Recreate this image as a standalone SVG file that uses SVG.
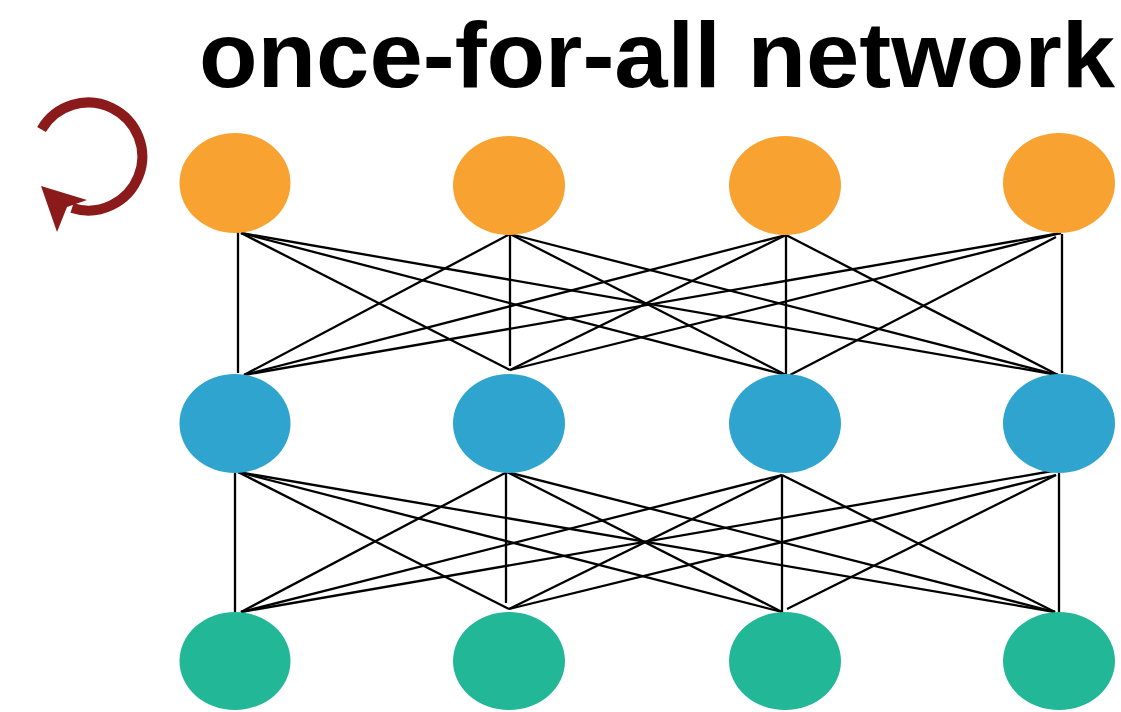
<svg xmlns="http://www.w3.org/2000/svg" width="1121" height="712" viewBox="0 0 1121 712">
<style>
.title{font-family:"Liberation Sans",Arial,sans-serif;font-weight:bold;font-size:92px;fill:#000}
.o{fill:#F8A331}.b{fill:#2FA4CF}.g{fill:#21B797}
.c line{stroke:#000;stroke-width:2.3;stroke-linecap:butt}
</style>
<rect width="1121" height="712" fill="#fff"/>
<text class="title" transform="translate(199,87) scale(1.042,1)" x="0" y="0">once-for-all network</text>
<g id="cycle-icon">
<path d="M41.5,129.5 A54,54 0 1 1 72,208" fill="none" stroke="#8B1A1A" stroke-width="10"/>
<polygon points="41,186 87,200 67,207 57,232" fill="#8B1A1A"/>
</g>
<g class="c" id="connectors">
<line x1="238" y1="232" x2="238" y2="373"/>
<line x1="241" y1="233" x2="510" y2="370"/>
<line x1="241" y1="233" x2="786" y2="375"/>
<line x1="241" y1="233" x2="1058" y2="375"/>
<line x1="510" y1="234" x2="244" y2="375"/>
<line x1="510" y1="234" x2="510" y2="366"/>
<line x1="510" y1="234" x2="786" y2="375"/>
<line x1="510" y1="234" x2="1058" y2="375"/>
<line x1="786" y1="235" x2="244" y2="375"/>
<line x1="786" y1="235" x2="510" y2="370"/>
<line x1="786" y1="235" x2="786" y2="375"/>
<line x1="786" y1="235" x2="1058" y2="375"/>
<line x1="1061" y1="233" x2="244" y2="375"/>
<line x1="1061" y1="233" x2="510" y2="370"/>
<line x1="1056" y1="237" x2="790" y2="375"/>
<line x1="1062" y1="234" x2="1062" y2="373"/>
<line x1="235" y1="469" x2="235" y2="612"/>
<line x1="238" y1="472" x2="509" y2="609"/>
<line x1="238" y1="472" x2="782" y2="612"/>
<line x1="238" y1="472" x2="1055" y2="612"/>
<line x1="507" y1="472" x2="241" y2="612"/>
<line x1="506" y1="469" x2="506" y2="603"/>
<line x1="507" y1="472" x2="782" y2="612"/>
<line x1="507" y1="472" x2="1055" y2="612"/>
<line x1="782" y1="475" x2="241" y2="612"/>
<line x1="782" y1="475" x2="509" y2="609"/>
<line x1="782" y1="475" x2="782" y2="613"/>
<line x1="782" y1="475" x2="1055" y2="612"/>
<line x1="1058" y1="470" x2="241" y2="612"/>
<line x1="1056" y1="475" x2="509" y2="609"/>
<line x1="1056" y1="475" x2="787" y2="609"/>
<line x1="1059" y1="472" x2="1059" y2="612"/>
</g>
<g id="o1"><ellipse class="o" cx="235" cy="183" rx="55.5" ry="50"/></g>
<g id="o2"><ellipse class="o" cx="509" cy="185.5" rx="56" ry="49.5"/></g>
<g id="o3"><ellipse class="o" cx="785" cy="185.5" rx="56" ry="49.5"/></g>
<g id="o4"><ellipse class="o" cx="1059" cy="183" rx="56" ry="50"/></g>
<g id="b1"><ellipse class="b" cx="235" cy="423.5" rx="55.5" ry="49.5"/></g>
<g id="b2"><ellipse class="b" cx="509" cy="423.5" rx="56" ry="49.5"/></g>
<g id="b3"><ellipse class="b" cx="785" cy="423.5" rx="56" ry="49.5"/></g>
<g id="b4"><ellipse class="b" cx="1059" cy="423.5" rx="56" ry="49.5"/></g>
<g id="g1"><ellipse class="g" cx="235" cy="661" rx="55.5" ry="49"/></g>
<g id="g2"><ellipse class="g" cx="509" cy="661" rx="56" ry="49"/></g>
<g id="g3"><ellipse class="g" cx="785" cy="661" rx="56" ry="49"/></g>
<g id="g4"><ellipse class="g" cx="1059" cy="661" rx="56" ry="49"/></g>
</svg>
